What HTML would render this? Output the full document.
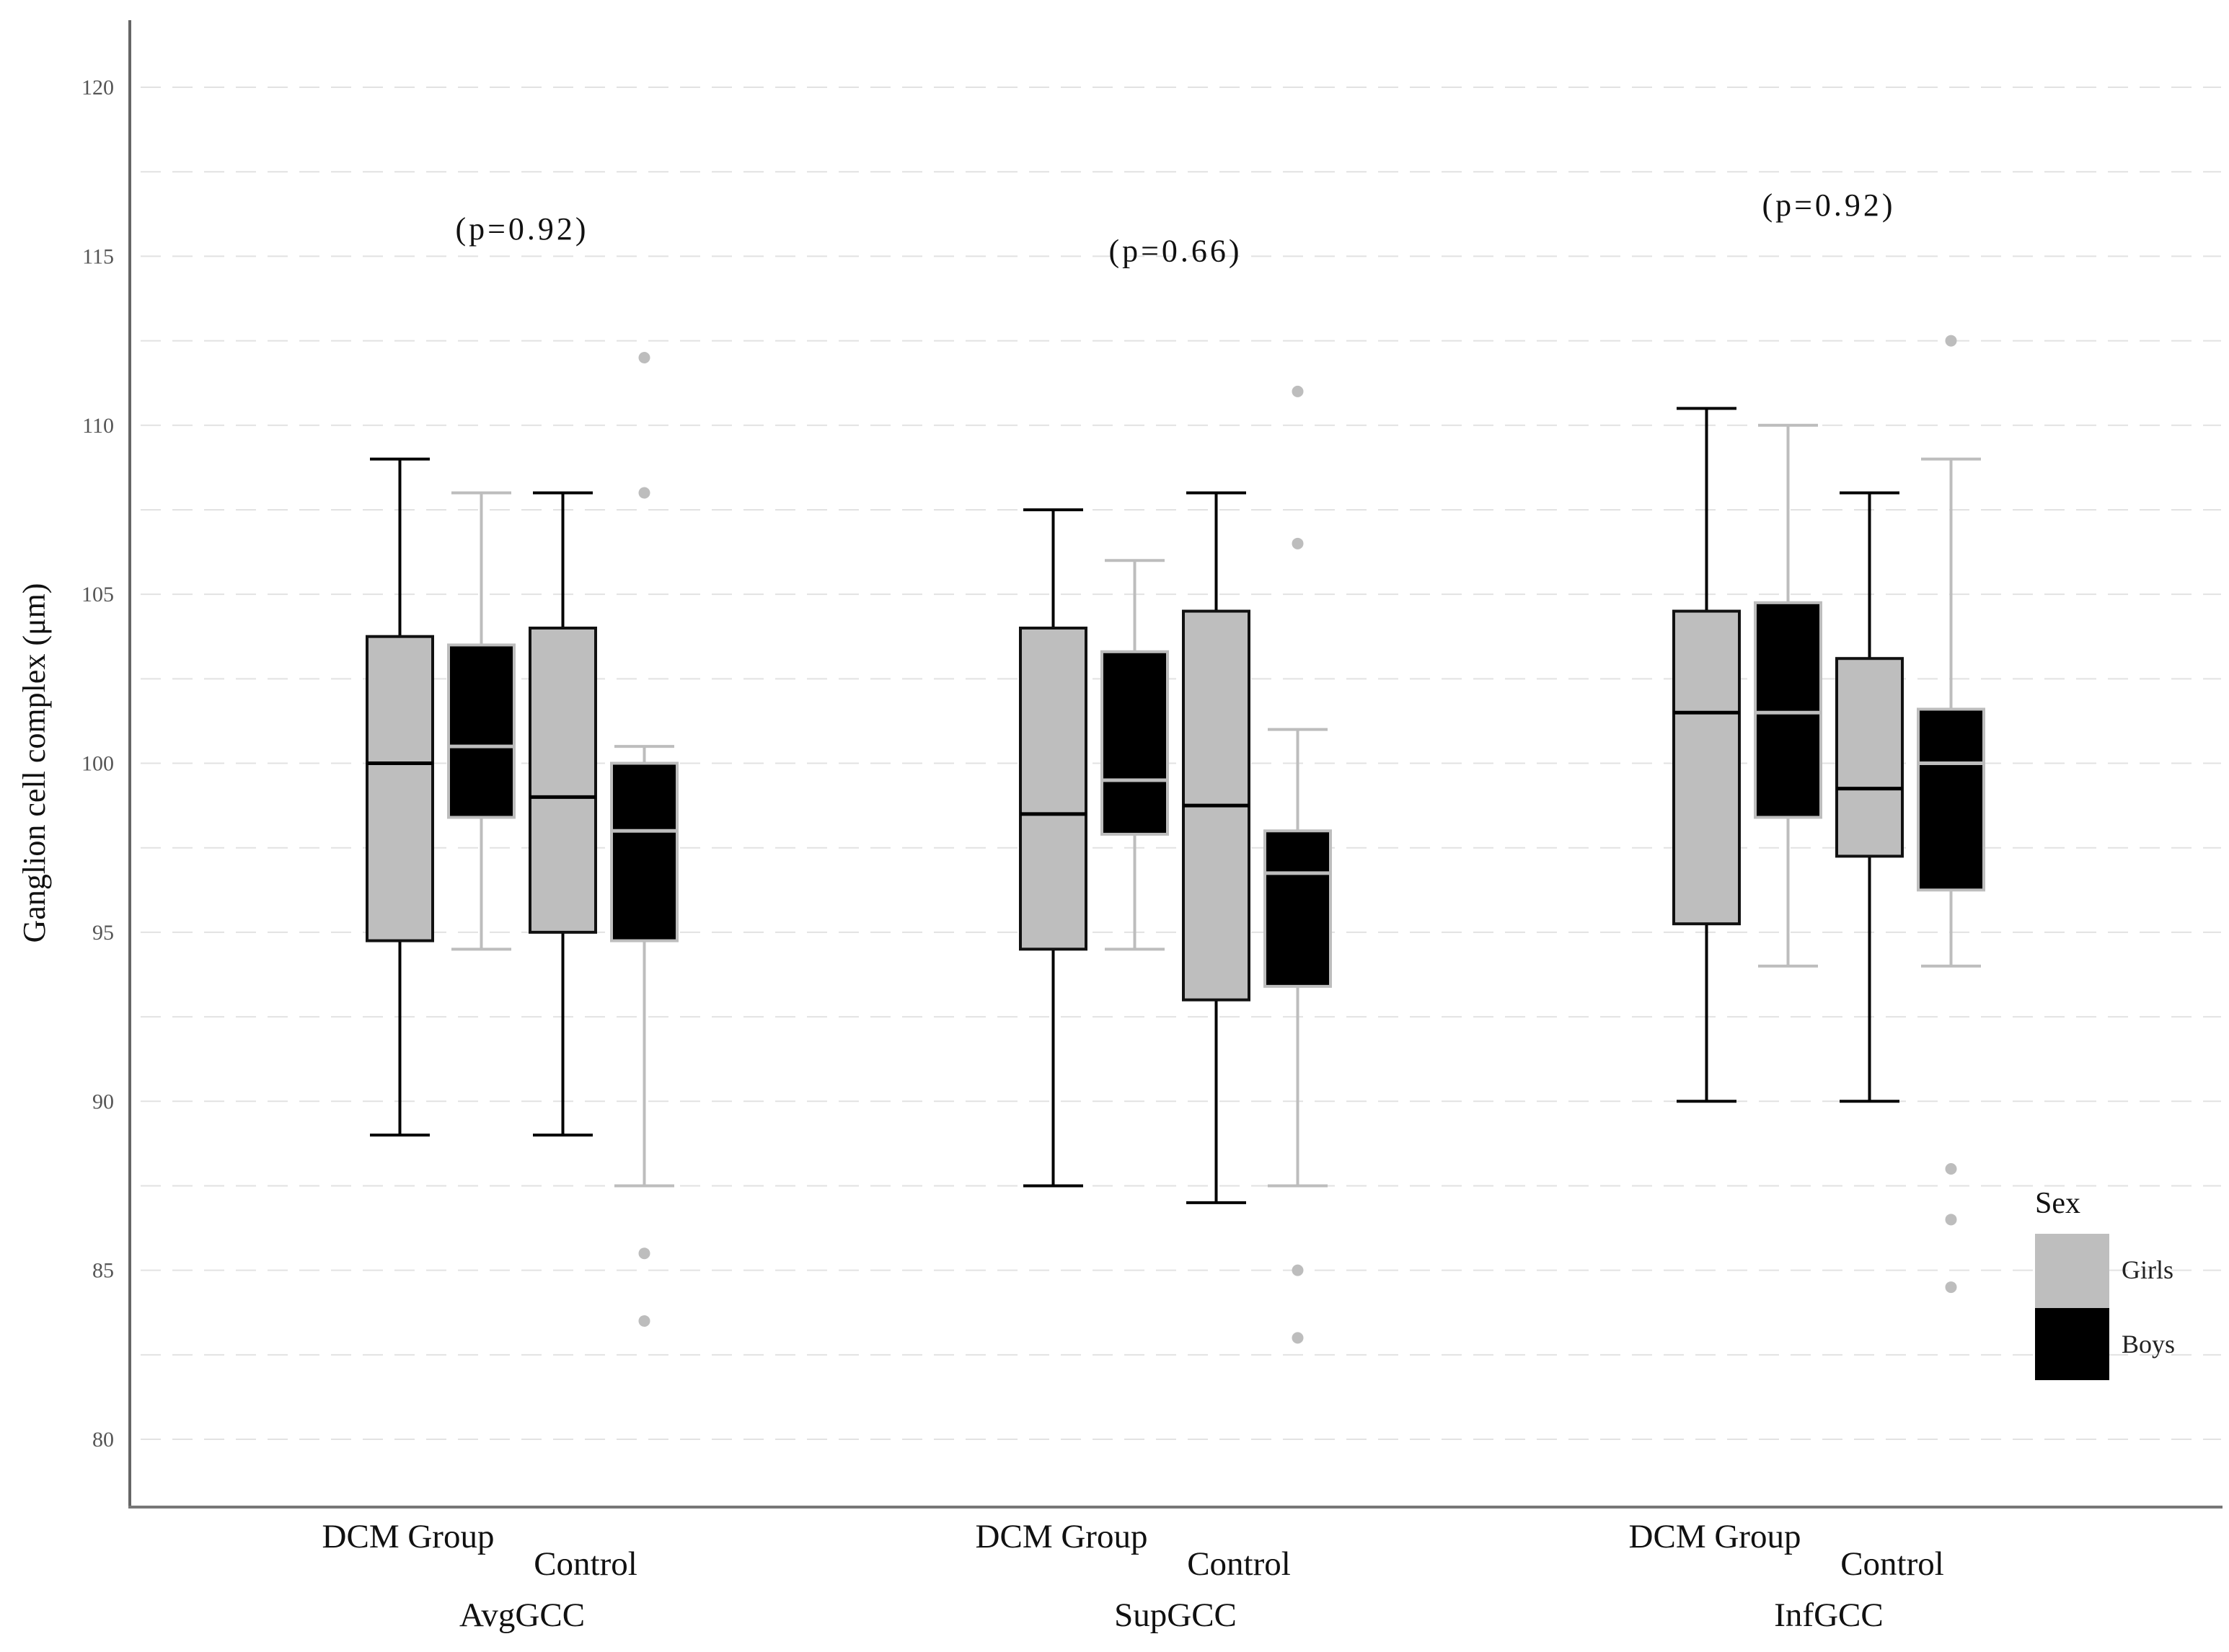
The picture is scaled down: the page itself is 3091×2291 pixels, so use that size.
<!DOCTYPE html>
<html><head><meta charset="utf-8"><style>
html,body{margin:0;padding:0;background:#fff}
svg{display:block;font-family:"Liberation Serif",serif}
</style></head><body>
<svg id="chart" width="3091" height="2291" viewBox="0 0 3091 2291">
<g id="grid"></g>
<g id="yticks"></g>
<g id="boxes"></g>
<line x1="180" y1="28" x2="180" y2="2091" stroke="#666" stroke-width="4"/>
<line x1="178" y1="2090" x2="3082" y2="2090" stroke="#777" stroke-width="4"/>
<text transform="translate(62,1058) rotate(-90)" text-anchor="middle" font-size="44" fill="#111">Ganglion cell complex (μm)</text>
<g id="xlabels"></g>
<g>
<text x="2822" y="1682" font-size="42" fill="#111">Sex</text>
<rect x="2822" y="1711" width="103" height="103" fill="#bebebe"/>
<rect x="2822" y="1814" width="103" height="100" fill="#000"/>
<text x="2942" y="1773" font-size="36" fill="#222">Girls</text>
<text x="2942" y="1876" font-size="36" fill="#222">Boys</text>
</g>
</svg>
<script>
const groups = ["AvgGCC","SupGCC","InfGCC"];
const pLabels = ["(p=0.92)","(p=0.66)","(p=0.92)"];
const pValuesY = [115.5,114.85,116.2];
const boxLow  = [[89,94.5,89,87.5],[87.5,94.5,87,87.5],[90,94,90,94]];
const boxQ1   = [[94.75,98.4,95,94.75],[94.5,97.9,93,93.4],[95.25,98.4,97.25,96.25]];
const boxMed  = [[100,100.5,99,98],[98.5,99.5,98.75,96.75],[101.5,101.5,99.25,100]];
const boxQ3   = [[103.75,103.5,104,100],[104,103.3,104.5,98],[104.5,104.75,103.1,101.6]];
const boxHigh = [[109,108,108,100.5],[107.5,106,108,101],[110.5,110,108,109]];
const outliers = [[[],[],[],[112,108,85.5,83.5]],[[],[],[],[111,106.5,85,83]],[[],[],[],[112.5,88,86.5,84.5]]];
const tickVals = [80,85,90,95,100,105,110,115,120];

const NS="http://www.w3.org/2000/svg";
function y(v){return 121+(120-v)*46.875;}
function gx(g){return 724+g*906;}
function bx(g,i){return gx(g)+(i-1.5)*113;}
function mk(tag,attrs,parent){const e=document.createElementNS(NS,tag);for(const k in attrs)e.setAttribute(k,attrs[k]);parent.appendChild(e);return e;}
const grid=document.getElementById('grid');
for(let v=80;v<=120;v+=2.5){
  const l=mk('line',{x1:195,x2:3080,y1:y(v),y2:y(v),stroke:'#e2e2e2','stroke-width':2,'stroke-dasharray':'28 16'},grid);
  
  
}
const yt=document.getElementById('yticks');
tickVals.forEach(v=>{
  const t=mk('text',{x:158,y:y(v)+10,'text-anchor':'end','font-size':30,fill:'#555'},yt);
  t.textContent=v;
  
  
});
const bg=document.getElementById('boxes');
const W=91;
for(let g=0;g<3;g++){
  for(let i=0;i<4;i++){
    const girls=(i%2===0);
    const line=girls?'#000':'#bdbdbd';
    const fill=girls?'#bebebe':'#000';
    const c=bx(g,i);
    const grp=mk('g',{},bg);
    
    
    mk('line',{x1:c,x2:c,y1:y(boxHigh[g][i]),y2:y(boxQ3[g][i]),stroke:line,'stroke-width':4},grp);
    mk('line',{x1:c,x2:c,y1:y(boxQ1[g][i]),y2:y(boxLow[g][i]),stroke:line,'stroke-width':4},grp);
    mk('line',{x1:c-W/2+4,x2:c+W/2-4,y1:y(boxHigh[g][i]),y2:y(boxHigh[g][i]),stroke:line,'stroke-width':4},grp);
    mk('line',{x1:c-W/2+4,x2:c+W/2-4,y1:y(boxLow[g][i]),y2:y(boxLow[g][i]),stroke:line,'stroke-width':4},grp);
    mk('rect',{x:c-W/2,y:y(boxQ3[g][i]),width:W,height:y(boxQ1[g][i])-y(boxQ3[g][i]),fill:fill,stroke:girls?'#111':'#bdbdbd','stroke-width':4},grp);
    mk('line',{x1:c-W/2,x2:c+W/2,y1:y(boxMed[g][i]),y2:y(boxMed[g][i]),stroke:line,'stroke-width':5},grp);
    outliers[g][i].forEach(v=>{
      const d=mk('circle',{cx:c,cy:y(v),r:8,fill:'#bdbdbd'},grp);
      
      
    });
  }
  const p=mk('text',{x:gx(g),y:y(pValuesY[g]),'text-anchor':'middle','font-size':44,'letter-spacing':4,fill:'#111'},bg);
  p.textContent=pLabels[g];
  
  
  const xl=document.getElementById('xlabels');
  const a=mk('text',{x:gx(g)-158,y:2146,'text-anchor':'middle','font-size':47,fill:'#111'},xl);
  a.textContent='DCM Group';
  
  
  const b=mk('text',{x:gx(g)+88,y:2184,'text-anchor':'middle','font-size':47,fill:'#111'},xl);
  b.textContent='Control';
  
  
  const n=mk('text',{x:gx(g),y:2255,'text-anchor':'middle','font-size':47,fill:'#111'},xl);
  n.textContent=groups[g];
  
  
}
</script>
</body></html>
